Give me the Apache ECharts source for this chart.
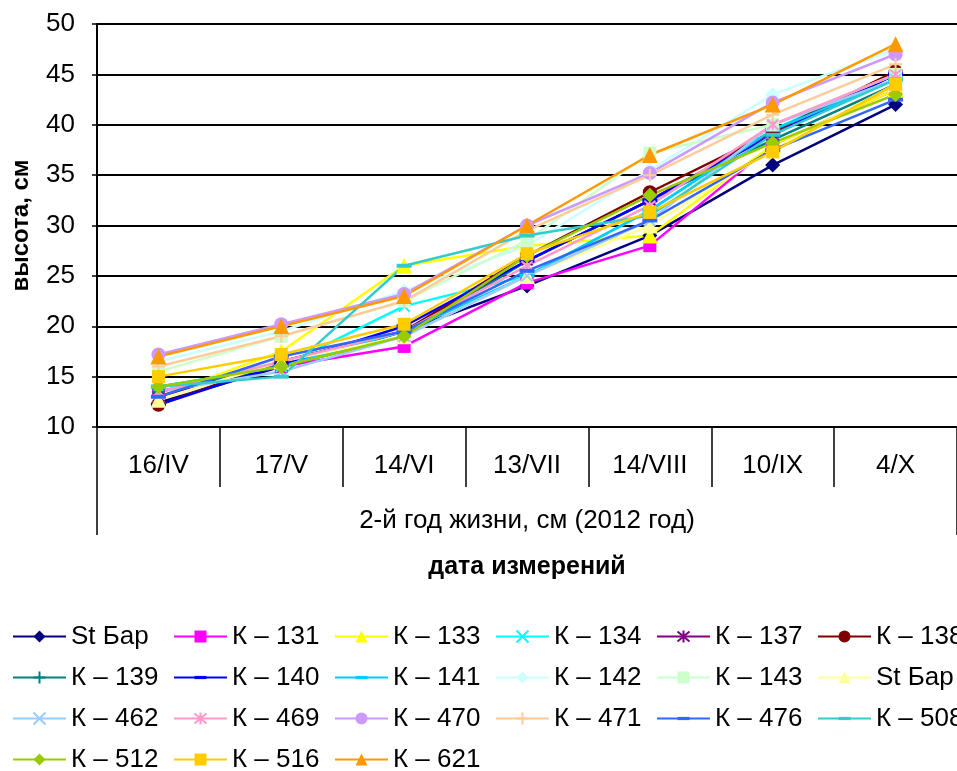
<!DOCTYPE html>
<html><head><meta charset="utf-8">
<script src="https://cdn.jsdelivr.net/npm/echarts@6/dist/echarts.min.js"></script>
<style>html,body{margin:0;padding:0;background:#fff}#c{width:957px;height:771px}</style>
</head><body><div id="c"></div>
<script>
var categories = ['16/IV','17/V','14/VI','13/VII','14/VIII','10/IX','4/X'];
var groupLabel = ['2-й год жизни, см (2012 год)'];
var yTicks = {min:10, max:50, interval:5};

var names = ['St Бар','К – 131','К – 133','К – 134','К – 137','К – 138','К – 139','К – 140','К – 141','К – 142','К – 143','St Бар ','К – 462','К – 469','К – 470','К – 471','К – 476','К – 508','К – 512','К – 516','К – 621'];

var stBar1 = [12.4, 16, 19.5, 24, 29, 36, 42];
var k131 = [13.5, 16, 18, 24.3, 28, 38, 43.5];
var k133 = [13, 17.5, 26, 28, 29, 38, 43.5];
var k134 = [14, 16, 22, 25, 31.5, 39.5, 45];
var k137 = [13, 16.5, 19.5, 26.5, 32.5, 39.3, 45];
var k138 = [12.2, 16.5, 19.5, 27, 33.3, 39.3, 45.3];
var k139 = [13.5, 16, 19, 26.5, 32.5, 38.5, 44];
var k140 = [12.2, 16.2, 20, 26.5, 32.5, 39, 45];
var k141 = [14, 16, 19.5, 25, 31.5, 39.5, 44.5];
var k142 = [16.5, 19.5, 23.5, 28, 35.5, 43, 47.5];
var k143 = [15.5, 19, 22.5, 28.5, 37.2, 40, 45];
var stBar2 = [12.7, 16.5, 19, 25, 30, 37.5, 44];
var k462 = [13.5, 15.5, 19, 25, 30.5, 40, 44.5];
var k469 = [13.5, 16.5, 19.5, 26, 32, 40, 45];
var k470 = [17.2, 20.2, 23.2, 30, 35.2, 42.2, 47];
var k471 = [16, 19, 22.5, 29.5, 35, 41, 46];
var k476 = [13, 17, 19.5, 25.5, 30.5, 37.5, 42.5];
var k508 = [14, 15, 26, 29, 31, 39, 44.5];
var k512 = [14, 16, 19, 27, 33, 38.2, 43];
var k516 = [15, 17.2, 20.2, 27.2, 31.3, 37.3, 44];
var k621 = [17, 20, 23, 30, 37, 42, 48];

var values = [stBar1,k131,k133,k134,k137,k138,k139,k140,k141,k142,k143,stBar2,k462,k469,k470,k471,k476,k508,k512,k516,k621];

var colors = ['#000080','#FF00FF','#FFFF00','#00FFFF','#800080','#800000','#008080','#0000FF','#00CCFF','#CCFFFF','#CCFFCC','#FFFF99','#99CCFF','#FF99CC','#CC99FF','#FFCC99','#3366FF','#33CCCC','#99CC00','#FFCC00','#FF9900'];

var SYM = {
  diamond:{s:'diamond', size:15, stroke:false},
  square:{s:'rect', size:13, stroke:false},
  triangle:{s:'triangle', size:16, stroke:false},
  x:{s:'path://M0,0L10,10M10,0L0,10', size:11, stroke:true},
  star:{s:'path://M0,0L10,10M10,0L0,10M5,-1L5,11', size:11, stroke:true},
  circle:{s:'circle', size:14, stroke:false},
  plus:{s:'path://M5,0L5,10M0,5L10,5', size:13, stroke:true},
  dash:{s:'path://M0,0M0,11L30,11L30,19L0,19ZM30,30', size:15, stroke:false}
};
var markers = ['diamond','square','triangle','x','star','circle','plus','dash','dash','diamond','square','triangle','x','star','circle','plus','dash','dash','diamond','square','triangle'];

var FONT = 'Liberation Sans, Arial, sans-serif';

var series = names.map(function(n, i){
  var m = SYM[markers[i]];
  return {
    name: n, type: 'line', data: values[i],
    xAxisIndex: 0, yAxisIndex: 0,
    symbol: m.s, symbolSize: m.size, showSymbol: true,
    lineStyle: {color: colors[i], width: 2.5},
    itemStyle: {color: colors[i], borderColor: colors[i], borderWidth: m.stroke ? 2 : 0, opacity: 1},
    emphasis: {disabled: true},
    animation: false
  };
});

var chart = echarts.init(document.getElementById('c'), null, {renderer:'canvas'});
chart.setOption({
  backgroundColor: '#fff',
  animation: false,
  color: colors,
  grid: {left: 97, top: 24, right: -11, bottom: 344, containLabel: false},
  xAxis: [{
    type: 'category', data: categories, position: 'bottom', boundaryGap: true,
    axisLine: {show: true, lineStyle: {color: '#000', width: 2}},
    axisTick: {show: true, interval: 0, length: 60, lineStyle: {color: '#000', width: 1.5}},
    axisLabel: {interval: 0, color: '#000', fontSize: 26, fontFamily: FONT, margin: 26},
    splitLine: {show: false}
  }, {
    type: 'category', data: groupLabel, position: 'bottom', boundaryGap: true,
    axisLine: {show: false},
    axisTick: {show: true, interval: 0, length: 108, lineStyle: {color: '#000', width: 1.5}},
    axisLabel: {color: '#000', fontSize: 26, fontFamily: FONT, margin: 81},
    name: 'дата измерений', nameLocation: 'middle', nameGap: 128,
    nameTextStyle: {color: '#000', fontSize: 25, fontWeight: 'bold', fontFamily: FONT}
  }],
  yAxis: {
    type: 'value', min: yTicks.min, max: yTicks.max, interval: yTicks.interval,
    axisLine: {show: true, lineStyle: {color: '#000', width: 2}},
    axisTick: {show: true, length: 5, lineStyle: {color: '#000', width: 1.5}},
    axisLabel: {color: '#000', fontSize: 26, fontFamily: FONT, margin: 22},
    splitLine: {show: true, lineStyle: {color: '#000', width: 2}},
    name: 'высота, см', nameLocation: 'middle', nameGap: 64, nameRotate: 90,
    nameTextStyle: {color: '#000', fontSize: 24, fontWeight: 'bold', fontFamily: FONT}
  },
  legend: {
    show: true, orient: 'horizontal', left: 7, top: 617, width: 1100,
    itemWidth: 53, itemHeight: 15, itemGap: 12,
    textStyle: {color: '#000', fontSize: 26, fontFamily: FONT, width: 90, lineHeight: 29, overflow: 'none'},
    data: names
  },
  series: series
});
</script></body></html>
